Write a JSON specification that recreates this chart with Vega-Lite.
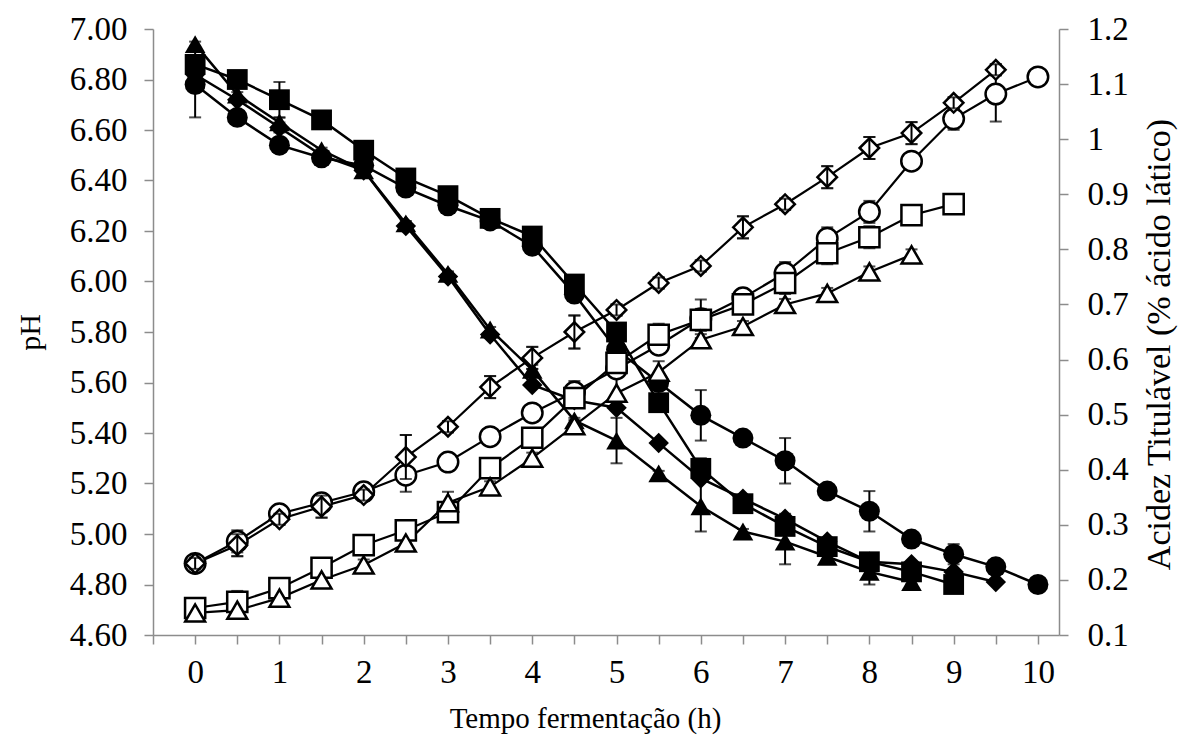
{
  "$schema": "https://vega.github.io/schema/vega-lite/v6.json",
  "width": 906,
  "height": 606,
  "autosize": {"type": "none"},
  "padding": {"left": 153, "top": 29, "right": 121, "bottom": 105},
  "background": "white",
  "config": {
    "font": "Liberation Serif",
    "view": {"stroke": null},
    "axis": {
      "grid": false,
      "labelFont": "Liberation Serif",
      "titleFont": "Liberation Serif",
      "labelFontSize": 33,
      "titleFontSize": 29,
      "labelColor": "black",
      "titleColor": "black",
      "titleFontWeight": "normal",
      "domainColor": "#8c8c8c",
      "tickColor": "#8c8c8c",
      "domainWidth": 1.5,
      "tickWidth": 1.5,
      "tickSize": 9,
      "labelOverlap": false,
      "labelFlush": false
    }
  },
  "data": {
    "values": [
      {"t": 0, "s": "circle", "ph": 6.78, "ep": 0.13, "ac": 0.23, "ea": 0},
      {"t": 0.5, "s": "circle", "ph": 6.65, "ep": 0, "ac": 0.27, "ea": 0.02},
      {"t": 1, "s": "circle", "ph": 6.54, "ep": 0.03, "ac": 0.32, "ea": 0.01},
      {"t": 1.5, "s": "circle", "ph": 6.49, "ep": 0.02, "ac": 0.34, "ea": 0.01},
      {"t": 2, "s": "circle", "ph": 6.46, "ep": 0.02, "ac": 0.36, "ea": 0.01},
      {"t": 2.5, "s": "circle", "ph": 6.37, "ep": 0.02, "ac": 0.39, "ea": 0.03},
      {"t": 3, "s": "circle", "ph": 6.30, "ep": 0.01, "ac": 0.414, "ea": 0.01},
      {"t": 3.5, "s": "circle", "ph": 6.24, "ep": 0.01, "ac": 0.46, "ea": 0.01},
      {"t": 4, "s": "circle", "ph": 6.14, "ep": 0.01, "ac": 0.503, "ea": 0.01},
      {"t": 4.5, "s": "circle", "ph": 5.95, "ep": 0.02, "ac": 0.541, "ea": 0.02},
      {"t": 5, "s": "circle", "ph": 5.73, "ep": 0.02, "ac": 0.583, "ea": 0.01},
      {"t": 5.5, "s": "circle", "ph": 5.60, "ep": 0.02, "ac": 0.626, "ea": 0.01},
      {"t": 6, "s": "circle", "ph": 5.47, "ep": 0.10, "ac": 0.674, "ea": 0.035},
      {"t": 6.5, "s": "circle", "ph": 5.38, "ep": 0.01, "ac": 0.712, "ea": 0.01},
      {"t": 7, "s": "circle", "ph": 5.29, "ep": 0.09, "ac": 0.757, "ea": 0.02},
      {"t": 7.5, "s": "circle", "ph": 5.17, "ep": 0.01, "ac": 0.82, "ea": 0.02},
      {"t": 8, "s": "circle", "ph": 5.09, "ep": 0.08, "ac": 0.868, "ea": 0.02},
      {"t": 8.5, "s": "circle", "ph": 4.98, "ep": 0.01, "ac": 0.96, "ea": 0.01},
      {"t": 9, "s": "circle", "ph": 4.92, "ep": 0.04, "ac": 1.037, "ea": 0.02},
      {"t": 9.5, "s": "circle", "ph": 4.87, "ep": 0.01, "ac": 1.082, "ea": 0.05},
      {"t": 10, "s": "circle", "ph": 4.80, "ep": 0.01, "ac": 1.113, "ea": 0.01},
      {"t": 0, "s": "diamond", "ph": 6.82, "ep": 0.01, "ac": 0.23, "ea": 0.01},
      {"t": 0.5, "s": "diamond", "ph": 6.72, "ep": 0.01, "ac": 0.263, "ea": 0.02},
      {"t": 1, "s": "diamond", "ph": 6.61, "ep": 0.02, "ac": 0.31, "ea": 0.01},
      {"t": 1.5, "s": "diamond", "ph": 6.50, "ep": 0.01, "ac": 0.333, "ea": 0.02},
      {"t": 2, "s": "diamond", "ph": 6.44, "ep": 0.01, "ac": 0.354, "ea": 0.01},
      {"t": 2.5, "s": "diamond", "ph": 6.22, "ep": 0.01, "ac": 0.423, "ea": 0.04},
      {"t": 3, "s": "diamond", "ph": 6.02, "ep": 0.01, "ac": 0.478, "ea": 0.01},
      {"t": 3.5, "s": "diamond", "ph": 5.79, "ep": 0.01, "ac": 0.55, "ea": 0.02},
      {"t": 4, "s": "diamond", "ph": 5.59, "ep": 0.01, "ac": 0.603, "ea": 0.02},
      {"t": 4.5, "s": "diamond", "ph": 5.53, "ep": 0.01, "ac": 0.65, "ea": 0.03},
      {"t": 5, "s": "diamond", "ph": 5.50, "ep": 0.01, "ac": 0.69, "ea": 0.01},
      {"t": 5.5, "s": "diamond", "ph": 5.36, "ep": 0.01, "ac": 0.739, "ea": 0.01},
      {"t": 6, "s": "diamond", "ph": 5.22, "ep": 0.01, "ac": 0.77, "ea": 0.01},
      {"t": 6.5, "s": "diamond", "ph": 5.14, "ep": 0.01, "ac": 0.84, "ea": 0.02},
      {"t": 7, "s": "diamond", "ph": 5.06, "ep": 0.02, "ac": 0.882, "ea": 0.01},
      {"t": 7.5, "s": "diamond", "ph": 4.97, "ep": 0.01, "ac": 0.931, "ea": 0.02},
      {"t": 8, "s": "diamond", "ph": 4.89, "ep": 0.01, "ac": 0.984, "ea": 0.02},
      {"t": 8.5, "s": "diamond", "ph": 4.88, "ep": 0.01, "ac": 1.011, "ea": 0.02},
      {"t": 9, "s": "diamond", "ph": 4.85, "ep": 0.01, "ac": 1.066, "ea": 0.01},
      {"t": 9.5, "s": "diamond", "ph": 4.81, "ep": 0.01, "ac": 1.126, "ea": 0.01},
      {"t": 0, "s": "square", "ph": 6.86, "ep": 0.01, "ac": 0.149, "ea": 0.01},
      {"t": 0.5, "s": "square", "ph": 6.80, "ep": 0.01, "ac": 0.16, "ea": 0.02},
      {"t": 1, "s": "square", "ph": 6.72, "ep": 0.07, "ac": 0.185, "ea": 0.01},
      {"t": 1.5, "s": "square", "ph": 6.64, "ep": 0.01, "ac": 0.222, "ea": 0.01},
      {"t": 2, "s": "square", "ph": 6.52, "ep": 0.01, "ac": 0.263, "ea": 0.01},
      {"t": 2.5, "s": "square", "ph": 6.41, "ep": 0.01, "ac": 0.29, "ea": 0.01},
      {"t": 3, "s": "square", "ph": 6.34, "ep": 0.01, "ac": 0.323, "ea": 0.01},
      {"t": 3.5, "s": "square", "ph": 6.25, "ep": 0.01, "ac": 0.403, "ea": 0.01},
      {"t": 4, "s": "square", "ph": 6.18, "ep": 0.01, "ac": 0.458, "ea": 0.01},
      {"t": 4.5, "s": "square", "ph": 5.99, "ep": 0.03, "ac": 0.53, "ea": 0.01},
      {"t": 5, "s": "square", "ph": 5.80, "ep": 0.01, "ac": 0.594, "ea": 0.01},
      {"t": 5.5, "s": "square", "ph": 5.52, "ep": 0.01, "ac": 0.645, "ea": 0.02},
      {"t": 6, "s": "square", "ph": 5.26, "ep": 0.04, "ac": 0.672, "ea": 0.02},
      {"t": 6.5, "s": "square", "ph": 5.12, "ep": 0.01, "ac": 0.70, "ea": 0.01},
      {"t": 7, "s": "square", "ph": 5.03, "ep": 0.02, "ac": 0.739, "ea": 0.02},
      {"t": 7.5, "s": "square", "ph": 4.95, "ep": 0.01, "ac": 0.793, "ea": 0.02},
      {"t": 8, "s": "square", "ph": 4.89, "ep": 0.01, "ac": 0.822, "ea": 0.02},
      {"t": 8.5, "s": "square", "ph": 4.85, "ep": 0.01, "ac": 0.862, "ea": 0.01},
      {"t": 9, "s": "square", "ph": 4.80, "ep": 0.01, "ac": 0.882, "ea": 0.01},
      {"t": 0, "s": "triangle", "ph": 6.94, "ep": 0.01, "ac": 0.14, "ea": 0.01},
      {"t": 0.5, "s": "triangle", "ph": 6.74, "ep": 0.01, "ac": 0.145, "ea": 0.01},
      {"t": 1, "s": "triangle", "ph": 6.63, "ep": 0.02, "ac": 0.167, "ea": 0.01},
      {"t": 1.5, "s": "triangle", "ph": 6.52, "ep": 0.01, "ac": 0.20, "ea": 0.01},
      {"t": 2, "s": "triangle", "ph": 6.44, "ep": 0.01, "ac": 0.227, "ea": 0.01},
      {"t": 2.5, "s": "triangle", "ph": 6.23, "ep": 0.01, "ac": 0.267, "ea": 0.01},
      {"t": 3, "s": "triangle", "ph": 6.03, "ep": 0.01, "ac": 0.34, "ea": 0.02},
      {"t": 3.5, "s": "triangle", "ph": 5.81, "ep": 0.01, "ac": 0.369, "ea": 0.01},
      {"t": 4, "s": "triangle", "ph": 5.65, "ep": 0.02, "ac": 0.421, "ea": 0.01},
      {"t": 4.5, "s": "triangle", "ph": 5.45, "ep": 0.01, "ac": 0.48, "ea": 0.01},
      {"t": 5, "s": "triangle", "ph": 5.37, "ep": 0.09, "ac": 0.539, "ea": 0.03},
      {"t": 5.5, "s": "triangle", "ph": 5.24, "ep": 0.01, "ac": 0.577, "ea": 0.02},
      {"t": 6, "s": "triangle", "ph": 5.11, "ep": 0.10, "ac": 0.636, "ea": 0.01},
      {"t": 6.5, "s": "triangle", "ph": 5.01, "ep": 0.01, "ac": 0.66, "ea": 0.01},
      {"t": 7, "s": "triangle", "ph": 4.97, "ep": 0.09, "ac": 0.70, "ea": 0.01},
      {"t": 7.5, "s": "triangle", "ph": 4.91, "ep": 0.01, "ac": 0.72, "ea": 0.01},
      {"t": 8, "s": "triangle", "ph": 4.85, "ep": 0.05, "ac": 0.759, "ea": 0.01},
      {"t": 8.5, "s": "triangle", "ph": 4.81, "ep": 0.01, "ac": 0.79, "ea": 0.01}
    ]
  },
  "encoding": {
    "x": {
      "field": "t", "type": "quantitative",
      "scale": {"domain": [-0.5, 10.25], "nice": false, "zero": false},
      "axis": {
        "title": "Tempo fermentação (h)",
        "values": [-0.5, 0, 0.5, 1, 1.5, 2, 2.5, 3, 3.5, 4, 4.5, 5, 5.5, 6, 6.5, 7, 7.5, 8, 8.5, 9, 9.5, 10],
        "labelExpr": "datum.value >= 0 && datum.value % 1 == 0 ? datum.value : ''",
        "labelPadding": 12,
        "titlePadding": 15,
        "titleX": 432
      }
    }
  },
  "layer": [
    {
      "encoding": {
        "y": {
          "field": "ph", "type": "quantitative",
          "scale": {"domain": [4.6, 7.0], "nice": false, "zero": false},
          "axis": {
            "title": "pH",
            "orient": "left",
            "values": [4.6, 4.8, 5.0, 5.2, 5.4, 5.6, 5.8, 6.0, 6.2, 6.4, 6.6, 6.8, 7.0],
            "format": ".2f",
            "labelPadding": 17,
            "titlePadding": 24,
            "titleFontSize": 30
          }
        }
      },
      "layer": [
        {"mark": {"type": "line", "color": "black", "strokeWidth": 2.5}, "encoding": {"detail": {"field": "s"}}},
        {
          "transform": [{"filter": "datum.ep > 0"}],
          "mark": {"type": "errorbar", "ticks": {"size": 12, "thickness": 2, "color": "black"}, "rule": {"strokeWidth": 2, "color": "black"}},
          "encoding": {"yError": {"field": "ep"}}
        },
        {
          "mark": {"type": "point", "filled": true, "color": "black", "opacity": 1},
          "encoding": {
            "shape": {"field": "s", "type": "nominal", "legend": null,
              "scale": {"domain": ["circle", "square", "triangle", "diamond"], "range": ["circle", "square", "triangle-up", "diamond"]}},
            "size": {"field": "s", "type": "nominal", "legend": null,
              "scale": {"domain": ["circle", "square", "triangle", "diamond"], "range": [440, 420, 430, 380]}}
          }
        }
      ]
    },
    {
      "encoding": {
        "y": {
          "field": "ac", "type": "quantitative",
          "scale": {"domain": [0.1, 1.2], "nice": false, "zero": false},
          "axis": {
            "title": "Acidez Titulável (% ácido lático)",
            "orient": "right",
            "values": [0.1, 0.2, 0.3, 0.4, 0.5, 0.6, 0.7, 0.8, 0.9, 1.0, 1.1, 1.2],
            "format": "~g",
            "labelPadding": 19,
            "titlePadding": 14,
            "titleFontSize": 34,
            "titleAngle": 270,
            "titleBaseline": "top",
            "titleY": 315
          }
        }
      },
      "layer": [
        {"mark": {"type": "line", "color": "black", "strokeWidth": 2.2}, "encoding": {"detail": {"field": "s"}}},
        {
          "transform": [{"filter": "datum.ea > 0"}],
          "mark": {"type": "errorbar", "ticks": {"size": 12, "thickness": 2, "color": "black"}, "rule": {"strokeWidth": 2, "color": "black"}},
          "encoding": {"yError": {"field": "ea"}}
        },
        {
          "mark": {"type": "point", "filled": true, "fill": "white", "stroke": "black", "strokeWidth": 2.5, "opacity": 1},
          "encoding": {
            "shape": {"field": "s", "type": "nominal", "legend": null,
              "scale": {"domain": ["circle", "square", "triangle", "diamond"], "range": ["circle", "square", "triangle-up", "diamond"]}},
            "size": {"field": "s", "type": "nominal", "legend": null,
              "scale": {"domain": ["circle", "square", "triangle", "diamond"], "range": [420, 380, 340, 300]}}
          }
        },
        {
          "transform": [{"filter": "datum.s == 'diamond' && datum.ea > 0"}],
          "mark": {"type": "errorbar", "ticks": {"size": 12, "thickness": 2, "color": "black"}, "rule": {"strokeWidth": 2, "color": "black"}},
          "encoding": {"yError": {"field": "ea"}}
        }
      ]
    }
  ],
  "resolve": {"scale": {"y": "independent", "size": "independent", "shape": "independent"}}
}
